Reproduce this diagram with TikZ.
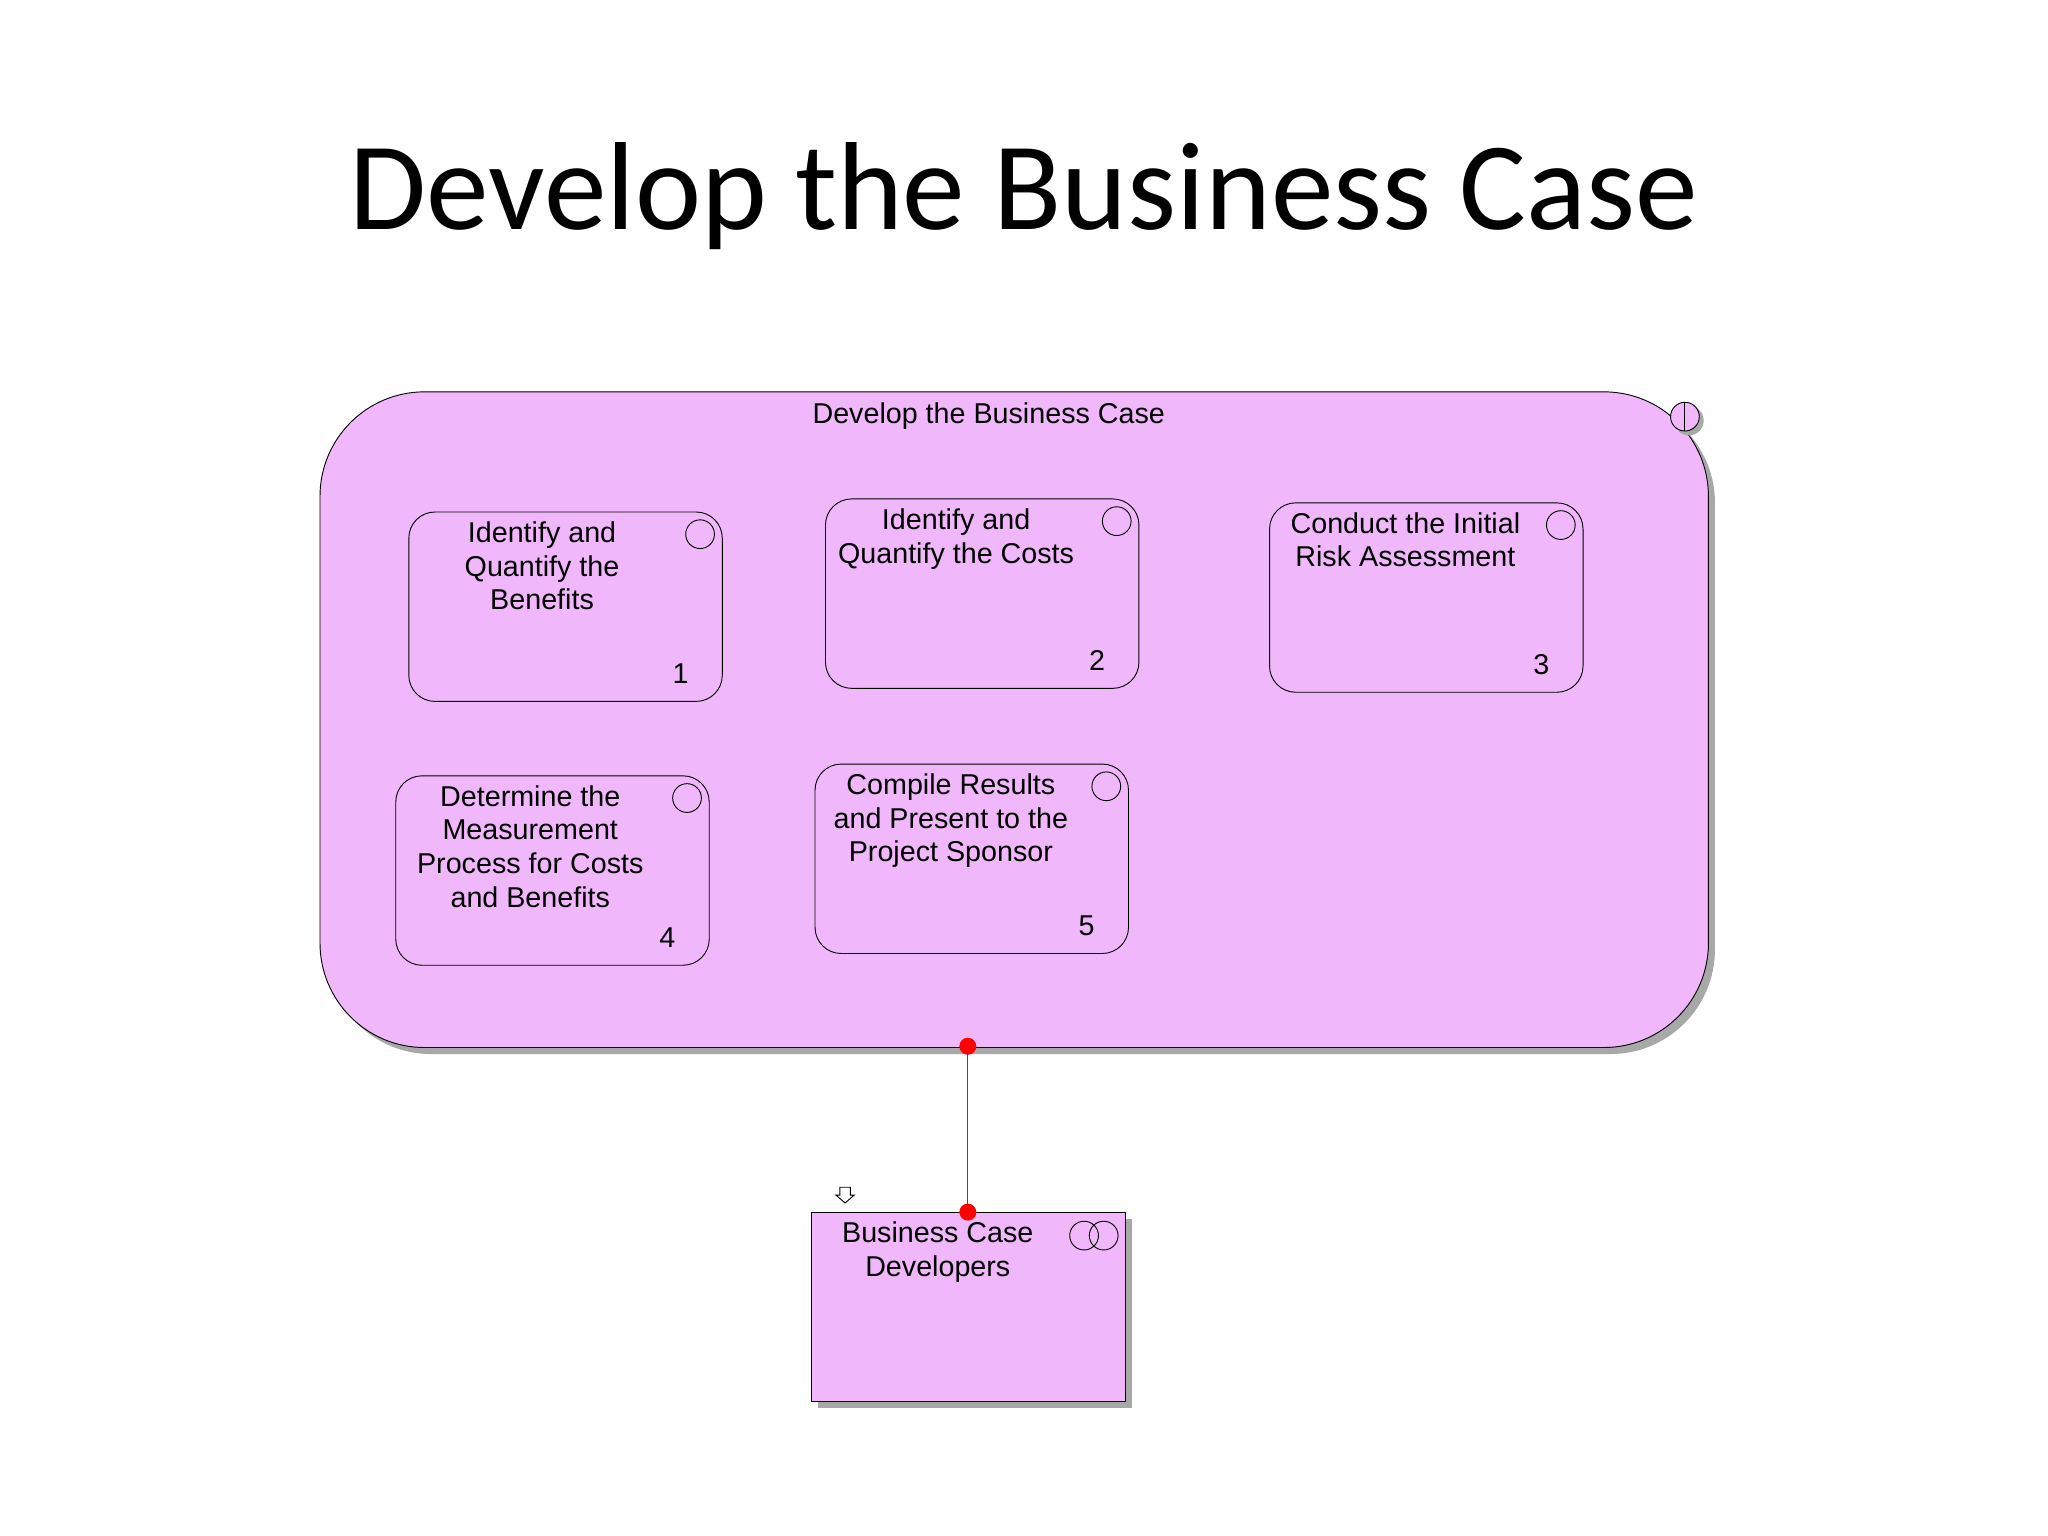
\documentclass[tikz,border=0pt]{standalone}
\usepackage{fontspec}
\setmainfont{Liberation Sans}
\newfontfamily\titlefont{Carlito}
\definecolor{pk}{HTML}{F0B8FA}
\definecolor{shd}{HTML}{A8A8A8}
\begin{document}
\begin{tikzpicture}[x=0.02cm,y=-0.02cm,
  inner/.style={draw=black,fill=pk,rounded corners=0.4cm},
  txt/.style={align=center,font=\fontsize{12.5}{14.7}\selectfont,inner sep=0pt,anchor=north},
  num/.style={font=\fontsize{12.5}{14.7}\selectfont,inner sep=0pt}]
\useasboundingbox (0,0) rectangle (1568,1176);
\node[font=\titlefont\fontsize{54.6}{60}\selectfont] (title) at (784,150) {Develop the Business Case};
% big box
\fill[shd,rounded corners=1.6cm] (250,305) rectangle (1313,807);
\draw[fill=pk,rounded corners=1.6cm] (245,300) rectangle (1308,802);
\node[txt] (bigl) at (757,308) {Develop the Business Case};
\draw[fill=shd,draw=shd] (1293,322) circle (11);
\draw[fill=pk] (1290,319) circle (11);
\draw (1290,308) -- (1290,330);
% inner boxes
\foreach \n/\x/\y/\t/\tx in {
 1/313/392/{Identify and\\Quantify the\\Benefits}/415,
 2/632/382/{Identify and\\Quantify the Costs}/732,
 3/972/385/{Conduct the Initial\\Risk Assessment}/1076,
 4/303/594/{Determine the\\Measurement\\Process for Costs\\and Benefits}/406,
 5/624/585/{Compile Results\\and Present to the\\Project Sponsor}/728}{
 \draw[inner] (\x,\y) rectangle ++(240,145);
 \node[txt] (t\n) at (\tx,\y+7) {\t};
 \draw (\x+223,\y+17) circle (11);
 \node[num] (n\n) at (\x+208,\y+124) {\n};
}
% bottom box
\fill[shd] (626,933) rectangle (867,1078);
\draw[fill=pk] (621,928) rectangle (862,1073);
\node[txt] (bl) at (718,935) {Business Case\\Developers};
\draw (830,946) circle (11);
\draw (845,946) circle (11);
\draw (643,909) -- (651,909) -- (651,915) -- (654,915) -- (647,921) -- (640,915) -- (643,915) -- cycle;
\coordinate (a) at (741,801);
\coordinate (b) at (741,928);
\draw[red] (a) -- (b);
\fill[red] (a) circle (6.5) (b) circle (6.5);
\end{tikzpicture}
\end{document}
